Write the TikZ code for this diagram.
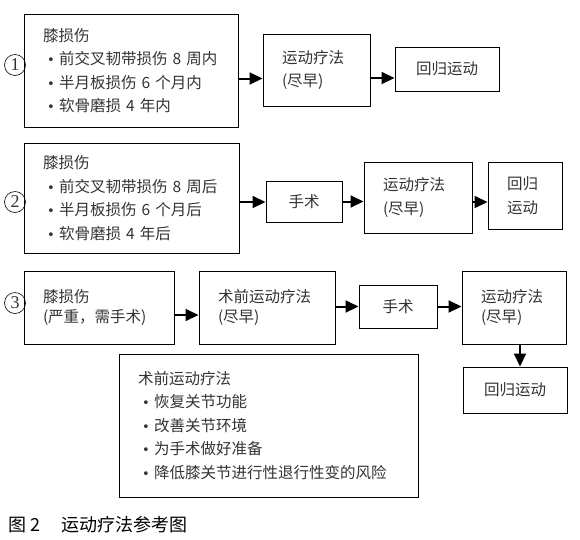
\documentclass[tikz,border=0pt]{standalone}
\usepackage{fontspec}
\setmainfont{Noto Sans CJK SC}
\newfontfamily\numfont{Liberation Serif}
\newfontfamily\dotfont{DejaVu Sans}
\usetikzlibrary{arrows.meta}

\newcommand\dotitem{\makebox[16pt]{\dotfont\fontsize{13}{13}\selectfont •}}

\begin{document}
\begin{tikzpicture}[x = 1pt, y = -1pt,
        box/.style = {draw, line width = 1pt, inner xsep = 19pt, inner ysep = 0pt,
            align = left, text = black!80, font = \fontsize{15.5}{23.5}\selectfont},
        tight/.style = {font = \fontsize{15.5}{20.5}\selectfont},
        arr/.style = {line width = 2pt, -{Triangle[length = 13pt, width = 12pt]}},
        num/.style = {draw, circle, line width = 0.6pt, inner sep = 0pt,
            minimum size = 21pt, text = black!80, font = \numfont\fontsize{18}{18}\selectfont}]
        \useasboundingbox (0,0) rectangle (580,539);

        % row 1
        \node [num] (n1) at (15,65) {1};
        \node [box, text width = 176pt, minimum height = 113pt] (A1) at (131,70.5)
        {膝损伤\\ \dotitem 前交叉韧带损伤~8~周内\\ \dotitem 半月板损伤~6~个月内\\ \dotitem 软骨磨损~4~年内};
        \node [box, text width = 69pt, minimum height = 72pt] (B1) at (316.5,70)
        {运动疗法\\(尽早)};
        \node [box, align = center, text width = 66pt, minimum height = 44pt] (C1) at (447,69)
        {回归运动};

        \draw [arr]
        ([yshift = -8pt]A1.east) -- ([yshift = -8pt]A1.east -| B1.west);
        \draw [arr]
        ([yshift = -8pt]B1.east) -- ([yshift = -8pt]B1.east -| C1.west);

        % row 2
        \node [num] (n2) at (15,202) {2};
        \node [box, text width = 177pt, minimum height = 110pt] (A2) at (131.5,198)
        {膝损伤\\ \dotitem 前交叉韧带损伤~8~周后\\ \dotitem 半月板损伤~6~个月后\\ \dotitem 软骨磨损~4~年后};
        \node [box, align = center, text width = 38pt, minimum height = 41pt] (S2) at (304,201.5)
        {手术};
        \node [box, text width = 70pt, minimum height = 71pt] (B2) at (418,197.5)
        {运动疗法\\(尽早)};
        \node [box, text width = 36pt, minimum height = 67pt] (C2) at (525,195.5)
        {回归\\运动};

        \draw [arr]
        ([yshift = -4pt]A2.east) -- ([yshift = -4pt]A2.east -| S2.west);
        \draw [arr]
        (S2.east) -- (S2.east -| B2.west);
        \draw [arr]
        ([yshift = -4.5pt]B2.east) -- ([yshift = -4.5pt]B2.east -| C2.west);

        % row 3
        \node [num] (n3) at (15,303) {3};
        \node [box, tight, text width = 112pt, minimum height = 73pt] (A3) at (99,307.5)
        {膝损伤\\(严重，需手术)};
        \node [box, tight, text width = 98pt, minimum height = 73pt] (B3) at (267,307.5)
        {术前运动疗法\\(尽早)};
        \node [box, align = center, text width = 40pt, minimum height = 43pt] (S3) at (398,306.5)
        {手术};
        \node [box, tight, text width = 66pt, minimum height = 73pt] (D3) at (514,307.5)
        {运动疗法\\(尽早)};
        \node [box, align = center, text width = 66pt, minimum height = 46pt] (E3) at (515,390)
        {回归运动};
        \node [box, text width = 261pt, minimum height = 143pt] (F3) at (268.5,425.5)
        {术前运动疗法\\ \dotitem 恢复关节功能\\ \dotitem 改善关节环境\\ \dotitem 为手术做好准备\\ \dotitem 降低膝关节进行性退行性变的风险};

        \draw [arr]
        ([yshift = -7.5pt]A3.east) -- ([yshift = -7.5pt]A3.east -| B3.west);
        \draw [arr]
        (S3.west -| B3.east) -- (S3.west);
        \draw [arr]
        (S3.east) -- (S3.east -| D3.west);
        \draw [arr]
        ([xshift = 6pt]D3.south) -- ([xshift = 6pt]D3.south |- E3.north);

        % caption
        \node [anchor = west, inner sep = 0pt, font = \fontsize{18}{18}\selectfont] (cap) at (8,525)
        {图~2\hspace{21pt}运动疗法参考图};
    \end{tikzpicture}
\end{document}
